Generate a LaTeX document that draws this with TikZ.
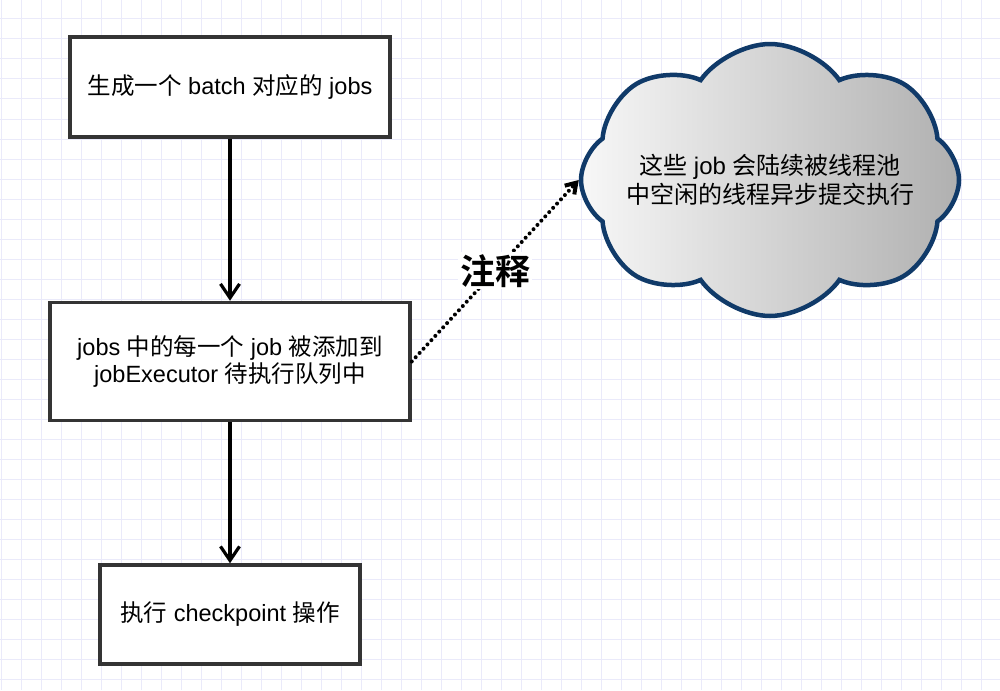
\documentclass[tikz,border=0pt]{standalone}
\usepackage{fontspec}
\setmainfont{Liberation Sans}
\newfontfamily\cjk[BoldFont={Noto Sans CJK SC Bold}]{Noto Sans CJK SC}
\usepackage{xcolor}
\usetikzlibrary{shapes.symbols, arrows.meta, positioning}
\definecolor{gridlav}{RGB}{234, 234, 250}
\definecolor{boxgray}{RGB}{52, 52, 52}
\definecolor{cloudblue}{RGB}{16, 58, 105}

\begin{document}
\begin{tikzpicture}[
    x=1pt, y=-1pt,
    gridline/.style={draw=gridlav, line width=1pt},
    box/.style={rectangle, draw=boxgray, line width=3.5pt, fill=white, align=center, font=\fontsize{23.5}{27}\selectfont},
    arrow/.style={-{Straight Barb[length=14pt, width=19pt]}, line width=3.2pt},
    dots/.style={-{Straight Barb[length=10pt, width=13pt]}, line width=4pt, dash pattern=on 0pt off 5.8pt, line cap=round}
]
    \useasboundingbox[fill=white] (0,0) rectangle (1000,690);

    % Grid
    \foreach \gx in {1,21,...,1000} \draw[gridline] (\gx,0) -- (\gx,690);
    \foreach \gy in {19,39,...,690} \draw[gridline] (0,\gy) -- (1000,\gy);

    % Steps
    \node[box, minimum width=320, minimum height=100] (gen) at (230,87) {{\cjk 生成一个} batch {\cjk 对应的} jobs};
    \node[box, minimum width=360, minimum height=118, below=162pt of gen] (queue) {jobs {\cjk 中的每一个} job {\cjk 被添加到}\\jobExecutor {\cjk 待执行队列中}};
    \node[box, minimum width=260, minimum height=99, below=141pt of queue] (ckpt) {{\cjk 执行} checkpoint {\cjk 操作}};

    % Cloud
    \node[cloud, draw=cloudblue, line width=4.5pt, left color=gray!6, right color=gray!62,
          cloud puffs=8, cloud puff arc=110, aspect=1.4, inner sep=0pt,
          minimum width=378, minimum height=272] (remark) at (770,180) {};
    \node[align=center, font=\fontsize{24}{29}\selectfont] (remarktext) at (remark.center)
          {{\cjk 这些} job {\cjk 会陆续被线程池}\\{\cjk 中空闲的线程异步提交执行}};

    % Arrows
    \draw[arrow] (gen) -- (queue);
    \draw[arrow] (queue) -- (ckpt);
    \draw[dots] (queue.east) -- (remark.west)
        node[midway, fill=white, inner sep=2pt, font=\cjk\bfseries\fontsize{35}{35}\selectfont] (lbl) {注释};
\end{tikzpicture}
\end{document}
